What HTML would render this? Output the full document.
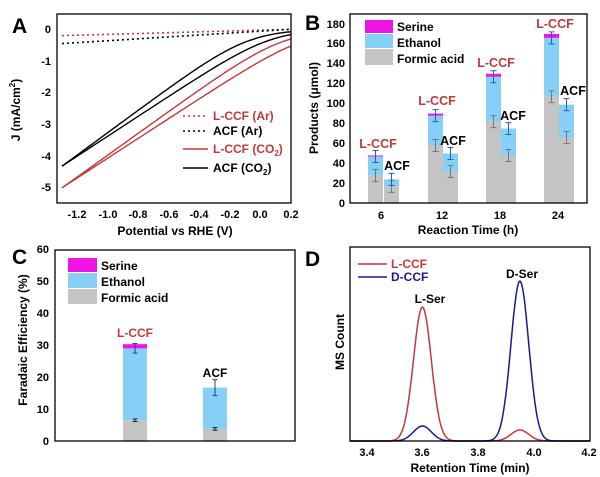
<!DOCTYPE html>
<html><head><meta charset="utf-8"><style>
html,body{margin:0;padding:0;background:#fff}
svg{display:block;font-family:"Liberation Sans",Arial,sans-serif;font-weight:bold}
</style></head><body>
<svg id="s" width="600" height="477" viewBox="0 0 600 477" xmlns="http://www.w3.org/2000/svg">
<rect width="600" height="477" fill="#fff"/>
<!-- Panel A -->
<text x="12" y="33" font-size="21">A</text>
<g id="A"></g>
<rect x="57" y="14" width="234" height="189" fill="none" stroke="#000" stroke-width="1.3"/>
<g font-size="11" text-anchor="end">
<text x="51" y="33">0</text><text x="51" y="65">-1</text><text x="51" y="96">-2</text><text x="51" y="128">-3</text><text x="51" y="160">-4</text><text x="51" y="191">-5</text>
</g>
<g font-size="11" text-anchor="middle">
<text x="77" y="218">-1.2</text><text x="108" y="218">-1.0</text><text x="138" y="218">-0.8</text><text x="169" y="218">-0.6</text><text x="199" y="218">-0.4</text><text x="230" y="218">-0.2</text><text x="260" y="218">0.0</text><text x="291" y="218">0.2</text>
</g>
<text x="175" y="235" font-size="12" text-anchor="middle">Potential vs RHE (V)</text>
<text transform="translate(20,110) rotate(-90)" font-size="12" text-anchor="middle">J (mA/cm<tspan font-size="8" dy="-5">2</tspan><tspan dy="5">)</tspan></text>
<g font-size="12">
<line x1="183" y1="116" x2="208" y2="116" stroke="#c0393b" stroke-width="1.6" stroke-dasharray="2,3"/>
<text x="213" y="120" fill="#c0393b">L-CCF (Ar)</text>
<line x1="183" y1="131" x2="208" y2="131" stroke="#000" stroke-width="1.6" stroke-dasharray="2,3"/>
<text x="213" y="135">ACF (Ar)</text>
<line x1="183" y1="149" x2="208" y2="149" stroke="#c0393b" stroke-width="1.6"/>
<text x="213" y="153" fill="#c0393b">L-CCF (CO<tspan font-size="8" dy="3">2</tspan><tspan dy="-3">)</tspan></text>
<line x1="183" y1="168" x2="208" y2="168" stroke="#000" stroke-width="1.6"/>
<text x="213" y="172">ACF (CO<tspan font-size="8" dy="3">2</tspan><tspan dy="-3">)</tspan></text>
</g>

<!-- Panel B -->
<text x="305" y="30" font-size="21">B</text>
<g id="B"></g>
<rect x="350" y="14" width="237" height="189" fill="none" stroke="#000" stroke-width="1.3"/>
<g font-size="11" text-anchor="end">
<text x="345" y="207">0</text><text x="345" y="187">20</text><text x="345" y="167">40</text><text x="345" y="147">60</text><text x="345" y="127">80</text><text x="345" y="107">100</text><text x="345" y="87">120</text><text x="345" y="67">140</text><text x="345" y="47">160</text><text x="345" y="28">180</text>
</g>
<g font-size="11" text-anchor="middle">
<text x="381" y="219">6</text><text x="442" y="219">12</text><text x="500" y="219">18</text><text x="558" y="219">24</text>
</g>
<text x="468" y="234" font-size="12" text-anchor="middle">Reaction Time (h)</text>
<text transform="translate(318,108) rotate(-90)" font-size="12" text-anchor="middle">Products (μmol)</text>
<rect x="365" y="20" width="28" height="13" fill="#ee14e6"/>
<rect x="365" y="34" width="28" height="14" fill="#86cff6"/>
<rect x="365" y="49" width="28" height="16" fill="#c4c4c4"/>
<g font-size="12"><text x="397" y="31">Serine</text><text x="397" y="47">Ethanol</text><text x="397" y="63">Formic acid</text></g>

<!-- Panel C -->
<text x="12" y="264" font-size="21">C</text>
<g id="C"></g>
<rect x="55" y="250" width="240" height="191" fill="none" stroke="#000" stroke-width="1.3"/>
<g font-size="11" text-anchor="end">
<text x="49" y="445">0</text><text x="49" y="413">10</text><text x="49" y="381">20</text><text x="49" y="349">30</text><text x="49" y="317">40</text><text x="49" y="285">50</text><text x="49" y="253">60</text>
</g>
<text transform="translate(27,340) rotate(-90)" font-size="12" text-anchor="middle">Faradaic Efficiency (%)</text>
<rect x="68" y="258" width="29" height="14" fill="#ee14e6"/>
<rect x="68" y="273" width="29" height="15" fill="#86cff6"/>
<rect x="68" y="289" width="29" height="15" fill="#c4c4c4"/>
<g font-size="12"><text x="101" y="270">Serine</text><text x="101" y="286">Ethanol</text><text x="101" y="302">Formic acid</text></g>
<text x="135" y="337" font-size="12" fill="#c0393b" text-anchor="middle">L-CCF</text>
<text x="215" y="377" font-size="12" text-anchor="middle">ACF</text>

<!-- Panel D -->
<text x="305" y="266" font-size="21">D</text>
<g id="D"></g>
<rect x="350" y="247" width="240" height="194" fill="none" stroke="#000" stroke-width="1.3"/>
<g font-size="11" text-anchor="middle">
<text x="367" y="456">3.4</text><text x="422" y="456">3.6</text><text x="478" y="456">3.8</text><text x="534" y="456">4.0</text><text x="589" y="456">4.2</text>
</g>
<text x="470" y="472" font-size="12" text-anchor="middle">Retention Time (min)</text>
<text transform="translate(344,342) rotate(-90)" font-size="12" text-anchor="middle">MS Count</text>
<line x1="358" y1="264" x2="387" y2="264" stroke="#c0393b" stroke-width="1.6"/>
<text x="391" y="268" font-size="12" fill="#c0393b">L-CCF</text>
<line x1="358" y1="277" x2="387" y2="277" stroke="#1a1a8c" stroke-width="1.6"/>
<text x="391" y="281" font-size="12" fill="#1a1a8c">D-CCF</text>
<text x="430" y="303" font-size="12" text-anchor="middle">L-Ser</text>
<text x="522" y="278" font-size="12" text-anchor="middle">D-Ser</text>
<g id="Blab" font-size="12.5" text-anchor="middle">
<text x="378" y="148" fill="#c0393b">L-CCF</text><text x="397" y="170">ACF</text>
<text x="437" y="105" fill="#c0393b">L-CCF</text><text x="453" y="145">ACF</text>
<text x="496" y="67" fill="#c0393b">L-CCF</text><text x="513" y="120">ACF</text>
<text x="555" y="28" fill="#c0393b">L-CCF</text><text x="573" y="95">ACF</text>
</g>
</svg>
<script>
var NS="http://www.w3.org/2000/svg";
function el(p,t,a){var e=document.createElementNS(NS,t);for(var k in a)e.setAttribute(k,a[k]);document.getElementById(p).appendChild(e);return e;}
// Panel A
function ax(v){return 77.3+(v+1.2)/0.2*30.5;}function ay(j){return 29.3-j*31.7;}
function lsv(V0,k,w){var d="";for(var v=-1.3;v<=0.2001;v+=0.01){var j=-k*w*Math.log(1+Math.exp((V0-v)/w));d+=(d?"L":"M")+ax(v).toFixed(1)+","+ay(j).toFixed(1);}return d;}
function lin(j0,j1){return "M"+ax(-1.3)+","+ay(j0)+"L"+ax(0.2)+","+ay(j1);}
el("A","path",{d:lin(-0.2,0),stroke:"#c0393b","stroke-width":1.6,fill:"none","stroke-dasharray":"2,3"});
el("A","path",{d:lin(-0.45,0),stroke:"#000","stroke-width":1.6,fill:"none","stroke-dasharray":"2,3"});
[[-0.08,3.54],[0.07,3.15]].forEach(function(p){el("A","path",{d:lsv(p[0],p[1],0.15),stroke:"#000","stroke-width":1.4,fill:"none"});});
[[0.15,3.45],[0.3,3.125]].forEach(function(p){el("A","path",{d:lsv(p[0],p[1],0.16),stroke:"#c0393b","stroke-width":1.4,fill:"none"});});
// Panel B
function by(v){return 203.3-v*0.9965;}
var bars=[[368,28,47,48],[384,17,24,0],[428,58,88,90],[443,32,50,0],[486,82,127,130],[501,48,75,0],[544,107,166,170],[559,66,99,0]];
bars.forEach(function(b){var x=b[0],w=15;
el("B","rect",{x:x,y:by(b[1]),width:w,height:by(0)-by(b[1]),fill:"#c4c4c4"});
el("B","rect",{x:x,y:by(b[2]),width:w,height:by(b[1])-by(b[2]),fill:"#86cff6"});
if(b[3])el("B","rect",{x:x,y:by(b[3]),width:w,height:by(b[2])-by(b[3]),fill:"#ee14e6"});
var cx=x+w/2;
[[b[1],6,"#777"],[b[2],6,"#1f5fbf"]].forEach(function(e){el("B","path",{d:"M"+cx+","+by(e[0]-e[1])+"V"+by(e[0]+e[1])+"M"+(cx-3)+","+by(e[0]-e[1])+"h6M"+(cx-3)+","+by(e[0]+e[1])+"h6",stroke:e[2],"stroke-width":1,fill:"none"});});
});
// Panel C
function cy(v){return 441-v*3.195;}
[[123,6.5,29,30.3],[203,3.8,16.7,0]].forEach(function(b){var x=b[0],w=24;
el("C","rect",{x:x,y:cy(b[1]),width:w,height:cy(0)-cy(b[1]),fill:"#c4c4c4"});
el("C","rect",{x:x,y:cy(b[2]),width:w,height:cy(b[1])-cy(b[2]),fill:"#86cff6"});
if(b[3])el("C","rect",{x:x,y:cy(b[3]),width:w,height:cy(b[2])-cy(b[3]),fill:"#ee14e6"});
var cx=x+w/2;
[[b[1],0.4,"#222"],[b[2],b[3]?1.5:2.5,"#1f3f9f"]].forEach(function(e){el("C","path",{d:"M"+cx+","+cy(e[0]-e[1])+"V"+cy(e[0]+e[1])+"M"+(cx-2.5)+","+cy(e[0]-e[1])+"h5M"+(cx-2.5)+","+cy(e[0]+e[1])+"h5",stroke:e[2],"stroke-width":1,fill:"none"});});
});
// Panel D
function dx(t){return 366.7+(t-3.4)/0.2*55.7;}
function curve(a1,a2,col){var d="";for(var t=3.3;t<=4.2001;t+=0.004){var y=441-a1*Math.exp(-Math.pow((t-3.6)/0.032,2)/2)-a2*Math.exp(-Math.pow((t-3.95)/0.032,2)/2);var x=Math.max(350,dx(t));d+=(d?"L":"M")+x.toFixed(1)+","+y.toFixed(1);}el("D","path",{d:d,stroke:col,"stroke-width":1.5,fill:"none"});}
curve(134,11,"#c0393b");curve(15,160,"#1a1a8c");
</script>
</body></html>
